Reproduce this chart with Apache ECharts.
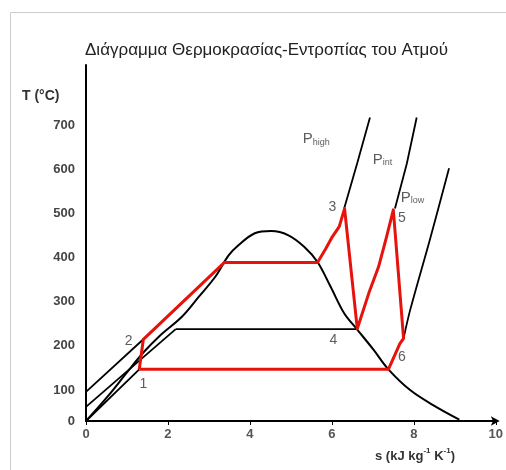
<!DOCTYPE html>
<html>
<head>
<meta charset="utf-8">
<script src="https://cdn.jsdelivr.net/npm/echarts@6/dist/echarts.min.js"></script>
<style>
html,body{margin:0;padding:0;background:#fff;}
#main{width:506px;height:470px;}
</style>
</head>
<body>
<div id="main"></div>
<script>
// s (kJ/kg K), T (°C) pairs
var dome = [[0,30],[0.55,88],[1.0,140],[1.4,185],[1.79,222],[2.34,266],[2.75,311],[3.15,356],[3.48,405],
	[3.72,428],[4.12,455],[4.52,460],[4.93,451],[5.33,424],[5.65,390],[5.97,334],[6.30,274],
	[6.62,237],[7.02,191],[7.38,147],[7.91,100],[8.47,66],[9.11,33]];
var pHighLiq = [[0,96],[1.40,215],[3.38,389]];
var pIntLiq = [[0,62],[2.19,238]];
var pLowLiq = [[0,30],[1.30,147]];
var pIntWet = [[2.19,238],[6.62,238]];
var pHighVap = [[6.30,511],[6.62,614],[6.93,717]];
var pIntVap = [[7.54,511],[7.83,613],[8.07,717]];
var pLowVap = [[7.75,217],[7.91,281],[8.39,440],[8.86,602]];
var cycle = [[1.30,147],[1.40,215],[3.38,389],[5.65,389],[5.85,420],[6.01,447],[6.18,470],[6.31,511],
	[6.62,239],[6.90,319],[7.14,379],[7.33,445],[7.50,508],[7.75,217],[7.66,205],[7.38,147],[1.30,147]];
var pointLabels = [['1',1.40,113],['2',1.04,211],['3',6.01,514],['4',6.04,213],['5',7.71,489],['6',7.71,175]];
var pressLabels = [['high',5.29,668],['int',7.00,621],['low',7.68,535]];
var yTicks = [30,100,200,300,400,500,600,700];
var xTicks = [0,2,4,6,8,10];

var myChart = echarts.init(document.getElementById('main'));

function blackLine(d, w, sm){
	return {
		type:'line', data:d, symbol:'none', silent:true, smooth:sm||false,
		lineStyle:{color:'#000', width:w||1.8}, z:2
	};
}

var option = {
	animation:false,
	backgroundColor:'#fff',
	title:{
		text:'Διάγραμμα Θερμοκρασίας-Εντροπίας του Ατμού',
		left:80, top:37,
		textStyle:{color:'#222', fontSize:17, fontWeight:'normal', fontFamily:'Liberation Sans'}
	},
	grid:{left:86, right:6, top:65, bottom:49},
	xAxis:{
		type:'value', min:0, max:10, interval:2,
		axisLine:{show:true, symbol:['none','arrow'], symbolSize:[7,9], symbolOffset:[0,4], lineStyle:{color:'#000', width:2}},
		axisTick:{show:true, length:4, lineStyle:{color:'#000'}},
		axisLabel:{color:'#555', fontSize:13, fontWeight:'bold', fontFamily:'Liberation Sans', margin:7,
			customValues:xTicks},
		splitLine:{show:false}
	},
	yAxis:{
		type:'value', min:30, max:836,
		axisLine:{show:true, lineStyle:{color:'#000', width:2}},
		axisTick:{show:false},
		axisLabel:{color:'#444', fontSize:13, fontWeight:'bold', fontFamily:'Liberation Sans', margin:11,
			customValues:yTicks,
			formatter:function(v){ return v===30 ? '0' : String(v); }},
		splitLine:{show:false}
	},
	graphic:[
		{type:'rect', shape:{x:10.5, y:12.5, width:600, height:600}, style:{fill:'none', stroke:'#ccc', lineWidth:1}, silent:true},
		{type:'text', left:22, top:89, style:{text:'T (°C)', fill:'#333', font:'bold 14px "Liberation Sans"'}},
		{type:'text', left:375, top:447, style:{
			text:'{a|s (kJ kg}{s|-1}{a| K}{s|-1}{a|)}',
			rich:{
				a:{fill:'#333', font:'bold 13px "Liberation Sans"', verticalAlign:'bottom'},
				s:{fill:'#333', font:'bold 8px "Liberation Sans"', verticalAlign:'top', padding:[0,0,8,0]}
			}
		}}
	],
	series:[
		blackLine(dome, 2, 0.35),
		blackLine(pHighLiq),
		blackLine(pIntLiq),
		blackLine(pLowLiq),
		blackLine(pIntWet, 1.6),
		blackLine(pHighVap),
		blackLine(pIntVap),
		blackLine(pLowVap, 1.8, 0.3),
		{
			type:'line', data:cycle, symbol:'none', silent:true, z:5,
			lineStyle:{color:'#e8120c', width:3, join:'round'}
		},
		{
			type:'scatter', symbolSize:0, silent:true, z:6,
			data:pointLabels.map(function(p){ return {name:p[0], value:[p[1],p[2]]}; }),
			label:{show:true, position:'inside', formatter:'{b}', color:'#333', fontSize:14, fontFamily:'Liberation Sans'}
		},
		{
			type:'scatter', symbolSize:0, silent:true, z:6,
			data:pressLabels.map(function(p){ return {name:p[0], value:[p[1],p[2]]}; }),
			label:{show:true, position:'right', distance:0, formatter:'{p|P}{s|{b}}',
				rich:{
					p:{color:'#333', fontSize:15, fontFamily:'Liberation Sans'},
					s:{color:'#333', fontSize:9, fontFamily:'Liberation Sans', verticalAlign:'bottom', padding:[6,0,0,0]}
				}}
		}
	]
};

if (option && typeof option === "object") {
	myChart.setOption(option, true);
}
window.onresize = myChart.resize;
</script>
</body>
</html>
